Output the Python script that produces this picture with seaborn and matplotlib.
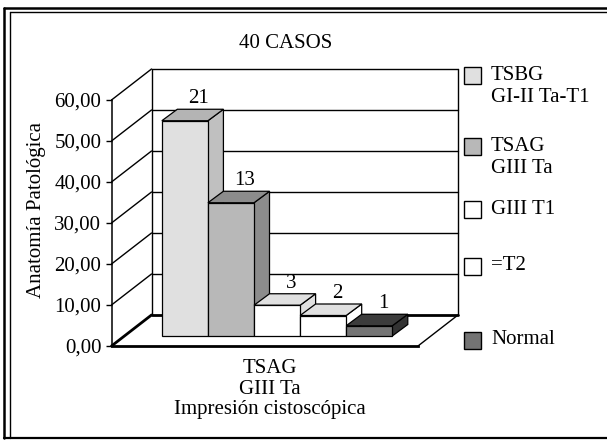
import matplotlib
matplotlib.use("Agg")
import matplotlib.pyplot as plt
from matplotlib.patches import Polygon, Rectangle
from matplotlib.lines import Line2D
import pandas as pd
import seaborn as sns

# ==================================
# DATA
# ==================================
CATEGORIES = ["TSBG\nGI-II Ta-T1", "TSAG\nGIII Ta", "GIII T1", "=T2", "Normal"]
PERCENTS = [52.5, 32.5, 7.5, 5.0, 2.5]
CASES = [21, 13, 3, 2, 1]
Y_TICKS = [0, 10, 20, 30, 40, 50, 60]
TITLE = "40 CASOS"
X_LABEL = "TSAG\nGIII Ta\nImpresión cistoscópica"
Y_LABEL = "Anatomía Patológica"

# face colours of the 3d bars
FRONT = ["#e0e0e0", "#b8b8b8", "#ffffff", "#ffffff", "#747474"]
TOP = ["#b4b4b4", "#8c8c8c", "#e0e0e0", "#e0e0e0", "#3c3c3c"]
SIDE = ["#c0c0c0", "#8c8c8c", "#e0e0e0", "#ffffff", "#333333"]

# ==================================
# STYLE
# ==================================
sns.set_theme(style="white")
plt.rcParams["font.family"] = ["Liberation Serif", "DejaVu Serif"]
plt.rcParams["text.color"] = "black"
plt.rcParams["axes.labelcolor"] = "black"
plt.rcParams["ytick.color"] = "black"
FS = 15

W, H = 607, 440
fig = plt.figure(figsize=(W / 100, H / 100), dpi=100)
fig.patch.set_facecolor("white")

# axes = front plane of the box (pixel layout of the reference)
ax = fig.add_axes([111.5 / W, 94 / H, 306.5 / W, 246 / H])
ax.set_facecolor("none")

df = pd.DataFrame({"cat": CATEGORIES, "pct": PERCENTS})
sns.barplot(
    data=df,
    x="cat",
    y="pct",
    hue="cat",
    palette=FRONT,
    saturation=1,
    width=1.0,
    legend=False,
    edgecolor="black",
    linewidth=0.9,
    ax=ax
)

L, R = -1.31, 5.34
ax.set_xlim(L, R)
ax.set_ylim(0, 60)
ax.set_xticks([])
ax.set_yticks(Y_TICKS)
ax.set_yticklabels([f"{v:.2f}".replace(".", ",") for v in Y_TICKS], fontsize=FS)
ax.tick_params(axis="y", left=True, length=4.3, width=1, pad=3)

for side in ["top", "right"]:
    ax.spines[side].set_visible(False)
ax.spines["left"].set_color("black")
ax.spines["left"].set_linewidth(1.1)
ax.spines["bottom"].set_color("black")
ax.spines["bottom"].set_linewidth(2)

# pixel -> data conversion
xu = (R - L) / ax.bbox.width
yu = 60 / ax.bbox.height

bx, by = 40 * xu, 31 * yu        # back wall offset
ox, oy = 13 * xu, 10 * yu        # bar front plane offset
dx, dy = 15.5 * xu, 11.5 * yu    # bar depth

# ==================================
# WALLS AND FLOOR
# ==================================
kw = dict(color="black", lw=1, clip_on=False, zorder=1)
ax.plot([L, L + bx], [0, by], color="black", lw=2, clip_on=False, zorder=1)
ax.plot([R, R + bx], [0, by], **kw)
ax.plot([L + bx, R + bx], [by, by], color="black", lw=2, clip_on=False, zorder=1)
ax.plot([L + bx, L + bx], [by, 60 + by], **kw)
ax.plot([R + bx, R + bx], [by, 60 + by], **kw)
for v in Y_TICKS[1:]:
    ax.plot([L + bx, R + bx], [v + by, v + by], **kw)
    ax.plot([L, L + bx], [v, v + by], **kw)

# ==================================
# 3D BARS
# ==================================
bars = sorted(ax.patches, key=lambda p: p.get_x())
for i, p in enumerate(bars):
    x0 = p.get_x() + ox
    w = p.get_width()
    h = p.get_height()
    z = 3 + 2 * i
    p.set_x(x0)
    p.set_y(oy)
    p.set_zorder(z + 1)
    p.set_clip_on(False)

    top = Polygon(
        [(x0, oy + h), (x0 + w, oy + h), (x0 + w + dx, oy + h + dy), (x0 + dx, oy + h + dy)],
        closed=True, facecolor=TOP[i], edgecolor="black", lw=0.9, zorder=z, clip_on=False
    )
    side = Polygon(
        [(x0 + w, oy), (x0 + w + dx, oy + dy), (x0 + w + dx, oy + h + dy), (x0 + w, oy + h)],
        closed=True, facecolor=SIDE[i], edgecolor="black", lw=0.9, zorder=z, clip_on=False
    )
    ax.add_patch(side)
    ax.add_patch(top)

    ax.annotate(
        str(CASES[i]),
        xy=(x0 + w / 2 + dx, oy + h + dy),
        xytext=(-1, 7.5),
        textcoords="offset points",
        ha="center",
        va="center",
        fontsize=FS,
        annotation_clip=False,
        zorder=20
    )

# ==================================
# LABELS
# ==================================
ax.set_xlabel(X_LABEL, fontsize=FS, linespacing=1.12)
ax.xaxis.set_label_coords((270 - 111.5) / 306.5, (440 - 359 - 94) / 246)
ax.xaxis.label.set_va("top")

ax.set_ylabel(Y_LABEL, fontsize=FS)
ax.yaxis.label.set_va("center")
ax.yaxis.set_label_coords((37 - 111.5) / 306.5, (440 - 210 - 94) / 246)

fig.text(286 / W, 1 - 43 / H, TITLE, ha="center", va="center", fontsize=FS)

# ==================================
# LEGEND (manual, like the excel one)
# ==================================
legend_y = [75.5, 146.5, 209, 266, 340]
for i, label in enumerate(CATEGORIES):
    yc = legend_y[i]
    fig.add_artist(Rectangle(
        (464 / W, 1 - (yc + 8.5) / H), 17 / W, 17 / H,
        transform=fig.transFigure, facecolor=FRONT[i], edgecolor="black", lw=1
    ))
    lines = label.split("\n")
    for k, line in enumerate(lines):
        fig.text(491 / W, 1 - (yc + 21.5 * k) / H, line,
                 ha="left", va="center", fontsize=FS)

# ==================================
# FRAME
# ==================================
def frame_line(xs, ys, lw):
    fig.add_artist(Line2D([x / W for x in xs], [1 - y / H for y in ys],
                          transform=fig.transFigure, color="black", lw=lw))

frame_line([4, 607], [8, 8], 1.8)
frame_line([4, 4], [8, 438], 1.8)
frame_line([9.5, 607], [12.5, 12.5], 1.0)
frame_line([9.5, 9.5], [12.5, 438], 1.0)
frame_line([4, 607], [438, 438], 1.6)

fig.savefig("out.png", dpi=100)
